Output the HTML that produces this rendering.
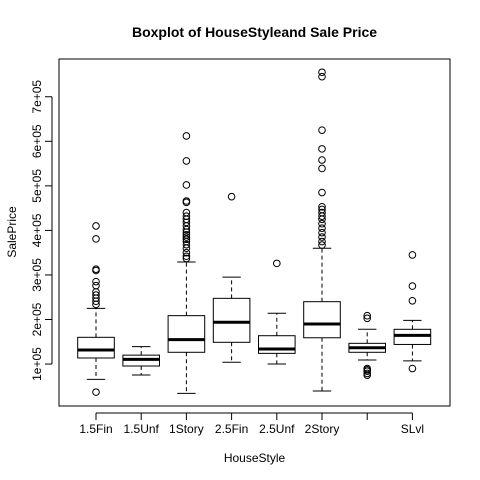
<!DOCTYPE html>
<html><head><meta charset="utf-8">
<style>
html,body{margin:0;padding:0;background:#fff;}
svg{display:block;font-family:"Liberation Sans",Arial,sans-serif;}
</style></head>
<body>
<svg id="chart" width="480" height="480" viewBox="0 0 480 480" xmlns="http://www.w3.org/2000/svg">
<rect x="0" y="0" width="480" height="480" fill="#fff"/>
<text x="254.5" y="37" text-anchor="middle" font-size="14" font-weight="bold">Boxplot of HouseStyleand Sale Price</text>
<text x="254.5" y="462" text-anchor="middle" font-size="12">HouseStyle</text>
<text x="16" y="232" text-anchor="middle" font-size="12" transform="rotate(-90 16 232)">SalePrice</text>
<rect x="59" y="59" width="391" height="347" fill="none" stroke="#000" stroke-width="1"/>
<g id="g"></g>
</svg>
<script>
const categories = ["1.5Fin","1.5Unf","1Story","2.5Fin","2.5Unf","2Story","SFoyer","SLvl"];
const shownLabels = ["1.5Fin","1.5Unf","1Story","2.5Fin","2.5Unf","2Story","","SLvl"];
const whiskerLow = [65700,75400,34300,104000,100000,39500,109000,107000];
const q1 = [113600,95600,126400,148800,124000,159000,126400,144000];
const medians = [131500,110600,154700,193700,133800,190000,136700,164500];
const q3 = [160000,120000,208600,247500,163600,240000,146500,178000];
const whiskerHigh = [225000,139000,329000,295000,214000,360000,178000,198000];
const outliers = [
  [37000,410000,381000,313000,310000,285000,276000,262000,255000,248000,241000,234000],
  [],
  [612000,556000,502000,466000,463000,440000,432000,425000,418000,410000,402000,396000,390000,385000,380000,375000,368000,360000,350000,342000,337000],
  [475700],
  [326000],
  [755000,745000,625000,583000,558000,539000,485000,453000,447000,440000,432000,425000,415000,405000,395000,385000,375000,367000],
  [208500,202700,90000,87000,84000,79000,75000],
  [345000,275000,242000,90000]
];
const yTicks = [100000,200000,300000,400000,500000,600000,700000];
const yTickLabels = ["1e+05","2e+05","3e+05","4e+05","5e+05","6e+05","7e+05"];

const NS="http://www.w3.org/2000/svg";
const g=document.getElementById('g');
function y(v){return 408.6 - v/100000*44.55;}
function x(i){return 96 + i*45.2;}
function mk(tag,attrs,parent){const e=document.createElementNS(NS,tag);for(const k in attrs)e.setAttribute(k,attrs[k]);(parent||g).appendChild(e);return e;}

// y axis
mk('line',{x1:52,x2:52,y1:y(yTicks[0]),y2:y(yTicks[yTicks.length-1]),stroke:'#000'});
yTicks.forEach((t,i)=>{
  const l=mk('line',{x1:45,x2:52,y1:y(t),y2:y(t),stroke:'#000'});
  
  
  const tx=mk('text',{x:41,y:y(t),'text-anchor':'middle','font-size':12,transform:`rotate(-90 41 ${y(t)})`});
  tx.textContent=yTickLabels[i];
  
  
});
// x axis
mk('line',{x1:x(0),x2:x(categories.length-1),y1:413,y2:413,stroke:'#000'});
categories.forEach((c,i)=>{
  const l=mk('line',{x1:x(i),x2:x(i),y1:413,y2:420,stroke:'#000'});
  
  
  const tx=mk('text',{x:x(i),y:433,'text-anchor':'middle','font-size':12});
  tx.textContent=shownLabels[i];
  
  
});
// boxes
const hw=18.3, cap=9.2;
categories.forEach((c,i)=>{
  const bg=mk('g',{});
  
  
  const cx=x(i);
  mk('line',{x1:cx,x2:cx,y1:y(q3[i]),y2:y(whiskerHigh[i]),stroke:'#000','stroke-dasharray':'4,3'},bg);
  mk('line',{x1:cx,x2:cx,y1:y(q1[i]),y2:y(whiskerLow[i]),stroke:'#000','stroke-dasharray':'4,3'},bg);
  mk('line',{x1:cx-cap,x2:cx+cap,y1:y(whiskerHigh[i]),y2:y(whiskerHigh[i]),stroke:'#000'},bg);
  mk('line',{x1:cx-cap,x2:cx+cap,y1:y(whiskerLow[i]),y2:y(whiskerLow[i]),stroke:'#000'},bg);
  mk('rect',{x:cx-hw,y:y(q3[i]),width:2*hw,height:y(q1[i])-y(q3[i]),fill:'#fff',stroke:'#000'},bg);
  mk('line',{x1:cx-hw,x2:cx+hw,y1:y(medians[i]),y2:y(medians[i]),stroke:'#000','stroke-width':3},bg);
  outliers[i].forEach(v=>{
    const o=mk('circle',{cx:cx,cy:y(v),r:3.3,fill:'none',stroke:'#000'},bg);
    
    
  });
});
</script>
</body></html>
